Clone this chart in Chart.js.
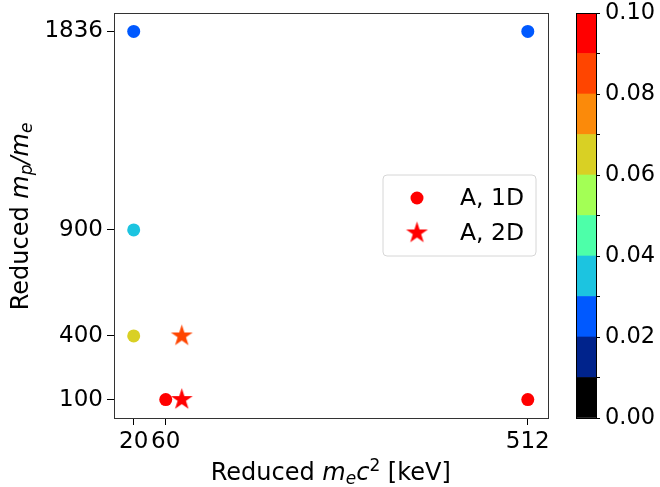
<!DOCTYPE html>
<html>
<head>
<meta charset="utf-8">
<script src="https://cdn.jsdelivr.net/npm/chart.js@4"></script>
<style>
  html, body { margin: 0; padding: 0; background: #fff; }
  #wrap { position: relative; width: 660px; height: 487px; }
  #main { position: absolute; left: 0; top: 0; }
  #cbar { position: absolute; left: 560px; top: 0; }
</style>
</head>
<body>
<div id="wrap">
  <canvas id="main" width="560" height="487"></canvas>
  <canvas id="cbar" width="100" height="487"></canvas>
</div>
<script>
// tick positions
const xTicks = [20, 60, 512];
const yTicks = [100, 400, 900, 1836];

// "A, 1D" runs (circles)
const oneDx = [20, 512, 20, 20, 60, 512];
const oneDy = [1836, 1836, 900, 400, 100, 100];
const oneDerr = [0.025, 0.025, 0.035, 0.065, 0.095, 0.095];

// "A, 2D" runs (stars)
const twoDx = [80, 80];
const twoDy = [400, 100];
const twoDerr = [0.085, 0.095];

// colour bar: 10 bins of 0.01
const cbarStep = 0.01;
const cbarColors = ['#000000', '#00238c', '#0059ff', '#1cc4e0', '#4dffa9',
                    '#a3ff55', '#d9d024', '#fb8a0a', '#ff4500', '#ff0000'];

const FONT = 'DejaVu Sans';
const FS = 23;
const TITLE_FS = 24;

function colorFor(v) {
    let i = Math.floor(v / cbarStep);
    if (i < 0) i = 0;
    if (i > cbarColors.length - 1) i = cbarColors.length - 1;
    return cbarColors[i];
}

function makeStar(color, r) {
    const size = Math.ceil(r * 2 + 2);
    const c = document.createElement('canvas');
    c.width = size; c.height = size;
    const g = c.getContext('2d');
    const cx = size / 2, cy = size / 2, ri = r * 0.382;
    g.beginPath();
    for (let k = 0; k < 10; k++) {
        const rad = k % 2 === 0 ? r : ri;
        const a = -Math.PI / 2 + k * Math.PI / 5;
        const px = cx + rad * Math.cos(a), py = cy + rad * Math.sin(a);
        if (k === 0) g.moveTo(px, py); else g.lineTo(px, py);
    }
    g.closePath();
    g.fillStyle = color;
    g.fill();
    return c;
}

const starImgs = twoDerr.map(e => makeStar(colorFor(e), 11.5));
const legendStar = makeStar('#ff0000', 11.5);

// draw a list of [text, italic, sizePx, dy] pieces
function drawPieces(ctx, pieces, cx, baseY) {
    let total = 0;
    pieces.forEach(p => {
        ctx.font = (p[1] ? 'italic ' : '') + p[2] + 'px "' + FONT + '"';
        p.w = ctx.measureText(p[0]).width;
        total += p.w;
    });
    let x = cx - total / 2;
    ctx.textAlign = 'left';
    ctx.textBaseline = 'alphabetic';
    ctx.fillStyle = '#000';
    pieces.forEach(p => {
        ctx.font = (p[1] ? 'italic ' : '') + p[2] + 'px "' + FONT + '"';
        ctx.fillText(p[0], x, baseY + p[3]);
        x += p.w;
    });
}

// keep the plot box where it is, no room added for edge labels
function noEdgePad(s) {
    s.paddingTop = 0; s.paddingBottom = 0;
    s.paddingLeft = 0; s.paddingRight = 0;
}

const decorPlugin = {
    id: 'decor',
    afterDraw(chart) {
        const ctx = chart.ctx;
        const a = chart.chartArea;
        const sub = Math.round(TITLE_FS * 0.7);
        ctx.save();
        // frame
        ctx.strokeStyle = '#333';
        ctx.lineWidth = 1;
        ctx.strokeRect(Math.round(a.left) + 0.5, Math.round(a.top) + 0.5,
                       Math.round(a.right - a.left), Math.round(a.bottom - a.top));

        // x title
        drawPieces(ctx, [
            ['Reduced ', false, TITLE_FS, 0],
            ['m', true, TITLE_FS, 0],
            ['e', true, sub, 4],
            ['c', true, TITLE_FS, 0],
            ['2', false, sub, -9],
            [' [keV]', false, TITLE_FS, 0]
        ], (a.left + a.right) / 2, 480);

        // y title
        ctx.save();
        ctx.translate(28, (a.top + a.bottom) / 2 + 1);
        ctx.rotate(-Math.PI / 2);
        drawPieces(ctx, [
            ['Reduced ', false, TITLE_FS, 0],
            ['m', true, TITLE_FS, 0],
            ['p', true, sub, 4],
            ['/', true, TITLE_FS, 0],
            ['m', true, TITLE_FS, 0],
            ['e', true, sub, 4]
        ], 0, 0);
        ctx.restore();

        // legend box
        const bx = 383, by = 175, bw = 153, bh = 81, rr = 4;
        ctx.beginPath();
        ctx.moveTo(bx + rr, by);
        ctx.arcTo(bx + bw, by, bx + bw, by + bh, rr);
        ctx.arcTo(bx + bw, by + bh, bx, by + bh, rr);
        ctx.arcTo(bx, by + bh, bx, by, rr);
        ctx.arcTo(bx, by, bx + bw, by, rr);
        ctx.closePath();
        ctx.fillStyle = 'rgba(255,255,255,0.8)';
        ctx.fill();
        ctx.strokeStyle = '#d6d6d6';
        ctx.stroke();

        ctx.fillStyle = '#ff0000';
        ctx.beginPath();
        ctx.arc(417, 198, 6.5, 0, Math.PI * 2);
        ctx.fill();
        ctx.drawImage(legendStar, 417 - legendStar.width / 2, 233 - legendStar.height / 2);

        ctx.fillStyle = '#000';
        ctx.font = '23.5px "' + FONT + '"';
        ctx.textAlign = 'left';
        ctx.textBaseline = 'middle';
        ctx.fillText('A, 1D', 460, 199);
        ctx.fillText('A, 2D', 460, 234);
        ctx.restore();
    }
};

new Chart(document.getElementById('main').getContext('2d'), {
    type: 'scatter',
    data: {
        datasets: [
            {
                label: 'A, 1D',
                data: oneDx.map((x, i) => ({ x: x, y: oneDy[i] })),
                backgroundColor: oneDerr.map(colorFor),
                pointRadius: 6.5,
                pointBorderWidth: 0,
                pointStyle: 'circle',
                clip: false
            },
            {
                label: 'A, 2D',
                data: twoDx.map((x, i) => ({ x: x, y: twoDy[i] })),
                backgroundColor: twoDerr.map(colorFor),
                pointStyle: starImgs,
                pointRadius: 11.5,
                clip: false
            }
        ]
    },
    options: {
        responsive: false,
        animation: false,
        events: [],
        layout: { padding: { top: 13, right: 11, left: 0, bottom: 0 } },
        plugins: { legend: { display: false }, tooltip: { enabled: false } },
        scales: {
            x: {
                type: 'linear',
                min: -4.6,
                max: 536.6,
                afterBuildTicks: s => { s.ticks = xTicks.map(v => ({ value: v })); },
                afterFit: s => { s.height = 69; noEdgePad(s); },
                border: { display: false },
                grid: { drawOnChartArea: false, drawTicks: true, tickLength: 7, color: '#000' },
                ticks: {
                    autoSkip: false, maxRotation: 0, padding: 3, color: '#000',
                    font: { family: FONT, size: FS },
                    callback: v => String(v)
                }
            },
            y: {
                type: 'linear',
                min: 13.2,
                max: 1922.8,
                afterBuildTicks: s => { s.ticks = yTicks.map(v => ({ value: v })); },
                afterFit: s => { s.width = 114; noEdgePad(s); },
                border: { display: false },
                grid: { drawOnChartArea: false, drawTicks: true, tickLength: 7, color: '#000' },
                ticks: {
                    autoSkip: false, padding: 4, color: '#000',
                    font: { family: FONT, size: FS },
                    callback: v => String(v)
                }
            }
        }
    },
    plugins: [decorPlugin]
});

// colour bar as stacked bars on its own scale
const cbarFrame = {
    id: 'cbarFrame',
    afterDraw(chart) {
        const a = chart.chartArea, ctx = chart.ctx;
        ctx.save();
        ctx.strokeStyle = '#000';
        ctx.lineWidth = 1;
        ctx.strokeRect(Math.round(a.left) + 0.5, Math.round(a.top) + 0.5,
                       Math.round(a.right - a.left), Math.round(a.bottom - a.top));
        ctx.restore();
    }
};

new Chart(document.getElementById('cbar').getContext('2d'), {
    type: 'bar',
    data: {
        labels: [''],
        datasets: cbarColors.map(c => ({
            data: [cbarStep],
            backgroundColor: c,
            borderWidth: 0,
            barPercentage: 1,
            categoryPercentage: 1
        }))
    },
    options: {
        responsive: false,
        animation: false,
        events: [],
        layout: { padding: { top: 13, left: 16, right: 0, bottom: 69 } },
        plugins: { legend: { display: false }, tooltip: { enabled: false } },
        scales: {
            x: { display: false, stacked: true },
            y: {
                position: 'right',
                stacked: true,
                min: 0,
                max: 0.1,
                afterBuildTicks: s => {
                    const t = [];
                    for (let k = 0; k <= 10; k++) t.push({ value: k * cbarStep });
                    s.ticks = t;
                },
                afterFit: s => { s.width = 64; noEdgePad(s); },
                border: { display: false },
                grid: { drawOnChartArea: false, drawTicks: true, tickLength: 4, color: '#000' },
                ticks: {
                    autoSkip: false, padding: 5, color: '#000',
                    font: { family: FONT, size: 22.5 },
                    callback: v => (Math.round(v * 100) % 2 === 0 ? v.toFixed(2) : '')
                }
            }
        }
    },
    plugins: [cbarFrame]
});
</script>
</body>
</html>
